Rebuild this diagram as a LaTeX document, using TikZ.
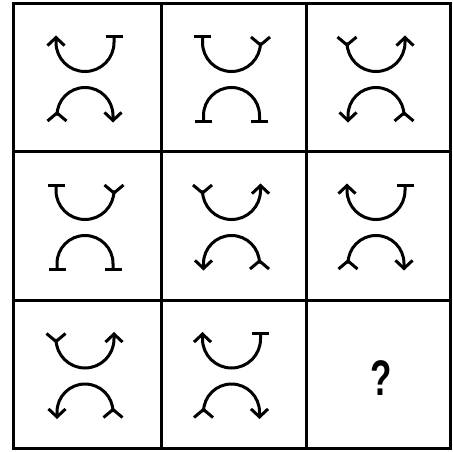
\documentclass[tikz,border=0pt]{standalone}
\usepackage{fontspec}
\setsansfont{Liberation Sans}
\usetikzlibrary{arrows.meta}
\tikzset{
  tipA/.tip={Straight Barb[length=8pt,width=17pt]},
  tipT/.tip={Bar[width=17pt]},
  tipY/.tip={Straight Barb[reversed,length=8pt,width=19pt]},
  cupcurve/.style={insert path={(-29,42) -- (-29,35) arc[start angle=180,end angle=360,radius=29] -- ++(0,7)}},
  archcurve/.style={insert path={(-28,-45) -- (-28,-38) arc[start angle=180,end angle=0,radius=28] -- ++(0,-7)}},
  pics/swirlone/.style={code={
    \draw[tipA-tipT,cupcurve];
    \draw[tipY-tipA,archcurve];
  }},
  pics/swirltwo/.style={code={
    \draw[tipT-tipY,cupcurve];
    \draw[tipT-tipT,archcurve];
  }},
  pics/swirlthree/.style={code={
    \draw[tipY-tipA,cupcurve];
    \draw[tipA-tipY,archcurve];
  }}
}

\begin{document}
\begin{tikzpicture}[x=1pt,y=1pt,line width=3pt]
  \useasboundingbox (0,0) rectangle (453,451);
  % grid
  \draw (13,3) rectangle (450,447);
  \draw (161,3) -- (161,447) (306,3) -- (306,447);
  \draw (13,300) -- (450,300) (13,151) -- (450,151);
  % top row
  \pic at (85,373.5) {swirlone};
  \pic at (231.5,373.5) {swirltwo};
  \pic at (376,373.5) {swirlthree};
  % middle row
  \pic at (85,225.5) {swirltwo};
  \pic at (231.5,225.5) {swirlthree};
  \pic at (376,225.5) {swirlone};
  % bottom row
  \pic at (85,77) {swirlthree};
  \pic at (231.5,77) {swirlone};
  \node[font=\sffamily\bfseries\fontsize{50}{50}\selectfont,xscale=0.7] (qmark) at (381,73) {?};
\end{tikzpicture}
\end{document}
